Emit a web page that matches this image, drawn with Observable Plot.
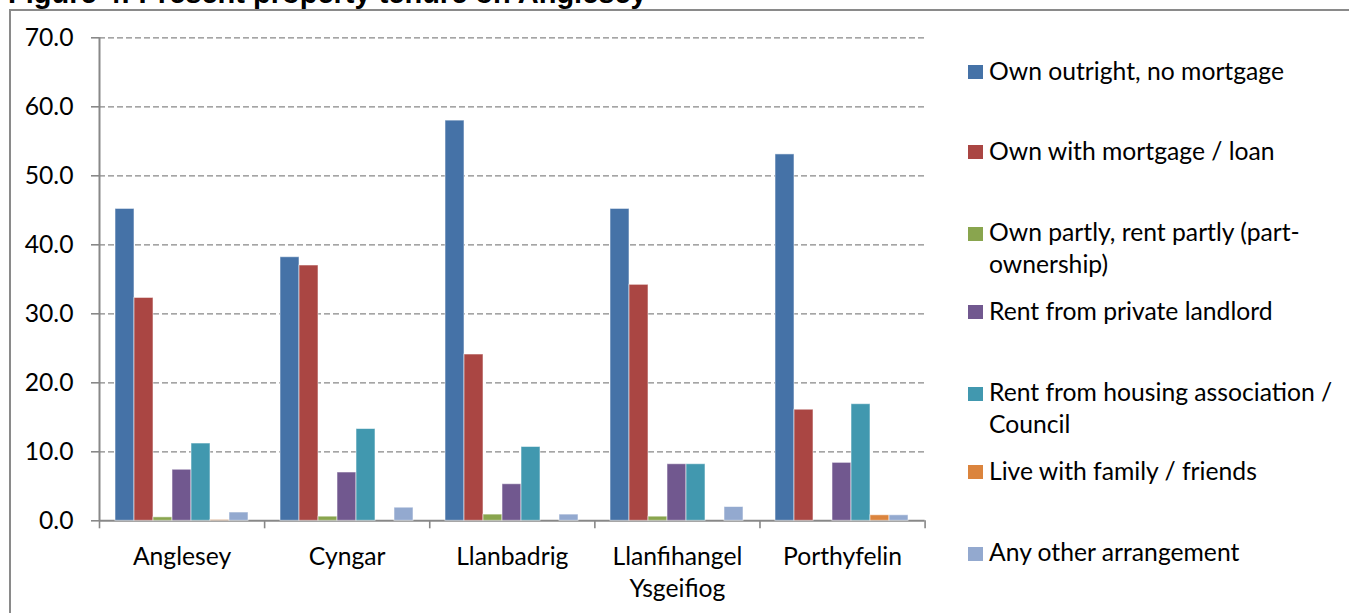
<!DOCTYPE html>
<html>
<head>
<meta charset="utf-8">
<script src="https://cdn.jsdelivr.net/npm/d3@7"></script>
<script src="https://cdn.jsdelivr.net/npm/@observablehq/plot@0.6"></script>
<style>
  html, body { margin: 0; padding: 0; background: #fff; width: 1349px; height: 613px; overflow: hidden; }
  #wrap { position: relative; width: 1349px; height: 613px; overflow: hidden; font-family: Lato, sans-serif; }
  #title { position: absolute; left: 8px; top: -21.5px; font: bold 29px "Liberation Sans", Arial, sans-serif; line-height: 29px; white-space: nowrap; color: #000; }
  #bTop { position: absolute; left: 9px; top: 9px; width: 1340px; height: 1.5px; background: #8a8a8a; }
  #bLeft { position: absolute; left: 9px; top: 9px; width: 1.5px; height: 604px; background: #8a8a8a; }
  .layer { position: absolute; left: 0; top: 0; }
  .leg { position: absolute; left: 968px; width: 370px; height: 40px; }
  .sw { position: absolute; left: 0; top: 10.3px; width: 14.5px; height: 14.5px; }
  .lt { position: absolute; left: 21px; top: 0; width: 352px; font-size: 24.7px; line-height: 32px; color: #000; }
</style>
</head>
<body>
<div id="wrap">
  <div id="title">Figure 4: Present property tenure on Anglesey</div>
  <div id="bTop"></div>
  <div id="bLeft"></div>
</div>
<script>
// ---- data ----
const categories = ["Anglesey", "Cyngar", "Llanbadrig", "Llanfihangel Ysgeifiog", "Porthyfelin"];
const seriesNames = [
  "Own outright, no mortgage",
  "Own with mortgage / loan",
  "Own partly, rent partly (part-ownership)",
  "Rent from private landlord",
  "Rent from housing association / Council",
  "Live with family / friends",
  "Any other arrangement"
];
const ownOutright   = [45.2, 38.2, 58.0, 45.2, 53.1];
const ownMortgage   = [32.3, 37.0, 24.1, 34.2, 16.1];
const ownPartly     = [0.5, 0.6, 0.9, 0.6, 0.0];
const rentPrivate   = [7.4, 7.0, 5.3, 8.2, 8.4];
const rentHousing   = [11.2, 13.3, 10.7, 8.2, 16.9];
const liveFamily    = [0.1, 0.0, 0.0, 0.0, 0.8];
const otherArrange  = [1.2, 1.9, 0.9, 2.0, 0.8];
const yTicks = [0, 10, 20, 30, 40, 50, 60, 70];
const colors = ["#4572A7", "#AA4643", "#89A54E", "#71588F", "#4198AF", "#DB843D", "#93A9CF"];

const seriesValues = [ownOutright, ownMortgage, ownPartly, rentPrivate, rentHousing, liveFamily, otherArrange];
const rows = categories.flatMap((c, ci) =>
  seriesNames.map((s, si) => ({category: c, series: s, value: seriesValues[si][ci]})));

// ---- layout ----
const W = 1349, H = 613;
const margins = {marginLeft: 99, marginRight: 424.4, marginTop: 37.3, marginBottom: 92.7};
const gridColor = "#888";
const fontSize = 24.7;
const legendBaselines = [80, 160, 241.7, 320, 401.7, 480, 561.7];

const wrap = document.getElementById("wrap");

// axes / gridlines layer
const axes = Plot.plot({
  width: W, height: H, ...margins,
  style: {background: "transparent", fontFamily: "Lato, sans-serif", fontSize: fontSize + "px", color: "#000"},
  x: {type: "linear", domain: [0, categories.length], axis: null},
  y: {domain: [0, 70], axis: null},
  marks: [
    Plot.ruleY(yTicks.filter(d => d > 0), {stroke: gridColor, strokeWidth: 1.3, strokeDasharray: "6,3"}),
    Plot.axisY({ticks: yTicks, tickSize: 8, tickPadding: 18, tickFormat: d => d.toFixed(1), label: null,
                stroke: gridColor, strokeWidth: 1.6, fill: "#000", fontSize: fontSize}),
    Plot.axisX({ticks: d3.range(0, categories.length + 1), tickSize: 8, tickFormat: () => "", label: null,
                stroke: gridColor, strokeWidth: 1.6}),
    Plot.ruleX([0], {stroke: gridColor, strokeWidth: 2}),
    Plot.ruleY([0], {stroke: gridColor, strokeWidth: 2}),
    Plot.text(categories, {x: (d, i) => i + 0.5, y: () => 0, text: d => d, lineAnchor: "top", dy: 21,
                           lineWidth: 7, lineHeight: 1.3, fontSize: fontSize, fill: "#000"})
  ]
});
axes.classList.add("layer");
wrap.appendChild(axes);

// bars layer
const bars = Plot.plot({
  width: W, height: H, ...margins,
  style: {background: "transparent", fontFamily: "Lato, sans-serif"},
  fx: {domain: categories, paddingInner: 0.17, paddingOuter: 0.085, axis: null, label: null},
  x: {domain: seriesNames, padding: 0, axis: null},
  y: {domain: [0, 70], axis: null},
  color: {domain: seriesNames, range: colors},
  marks: [
    Plot.barY(rows, {fx: "category", x: "series", y: "value", fill: "series",
                     stroke: "white", strokeOpacity: 0.55, strokeWidth: 1,
                     filter: d => d.value > 0})
  ]
});
bars.classList.add("layer");
wrap.appendChild(bars);

// legend
seriesNames.forEach((s, i) => {
  const item = document.createElement("div");
  item.className = "leg";
  item.style.top = (legendBaselines[i] - 25.3) + "px";
  const sw = document.createElement("div");
  sw.className = "sw";
  sw.style.background = colors[i];
  const lt = document.createElement("div");
  lt.className = "lt";
  lt.textContent = s;
  item.appendChild(sw);
  item.appendChild(lt);
  wrap.appendChild(item);
});
</script>
</body>
</html>
